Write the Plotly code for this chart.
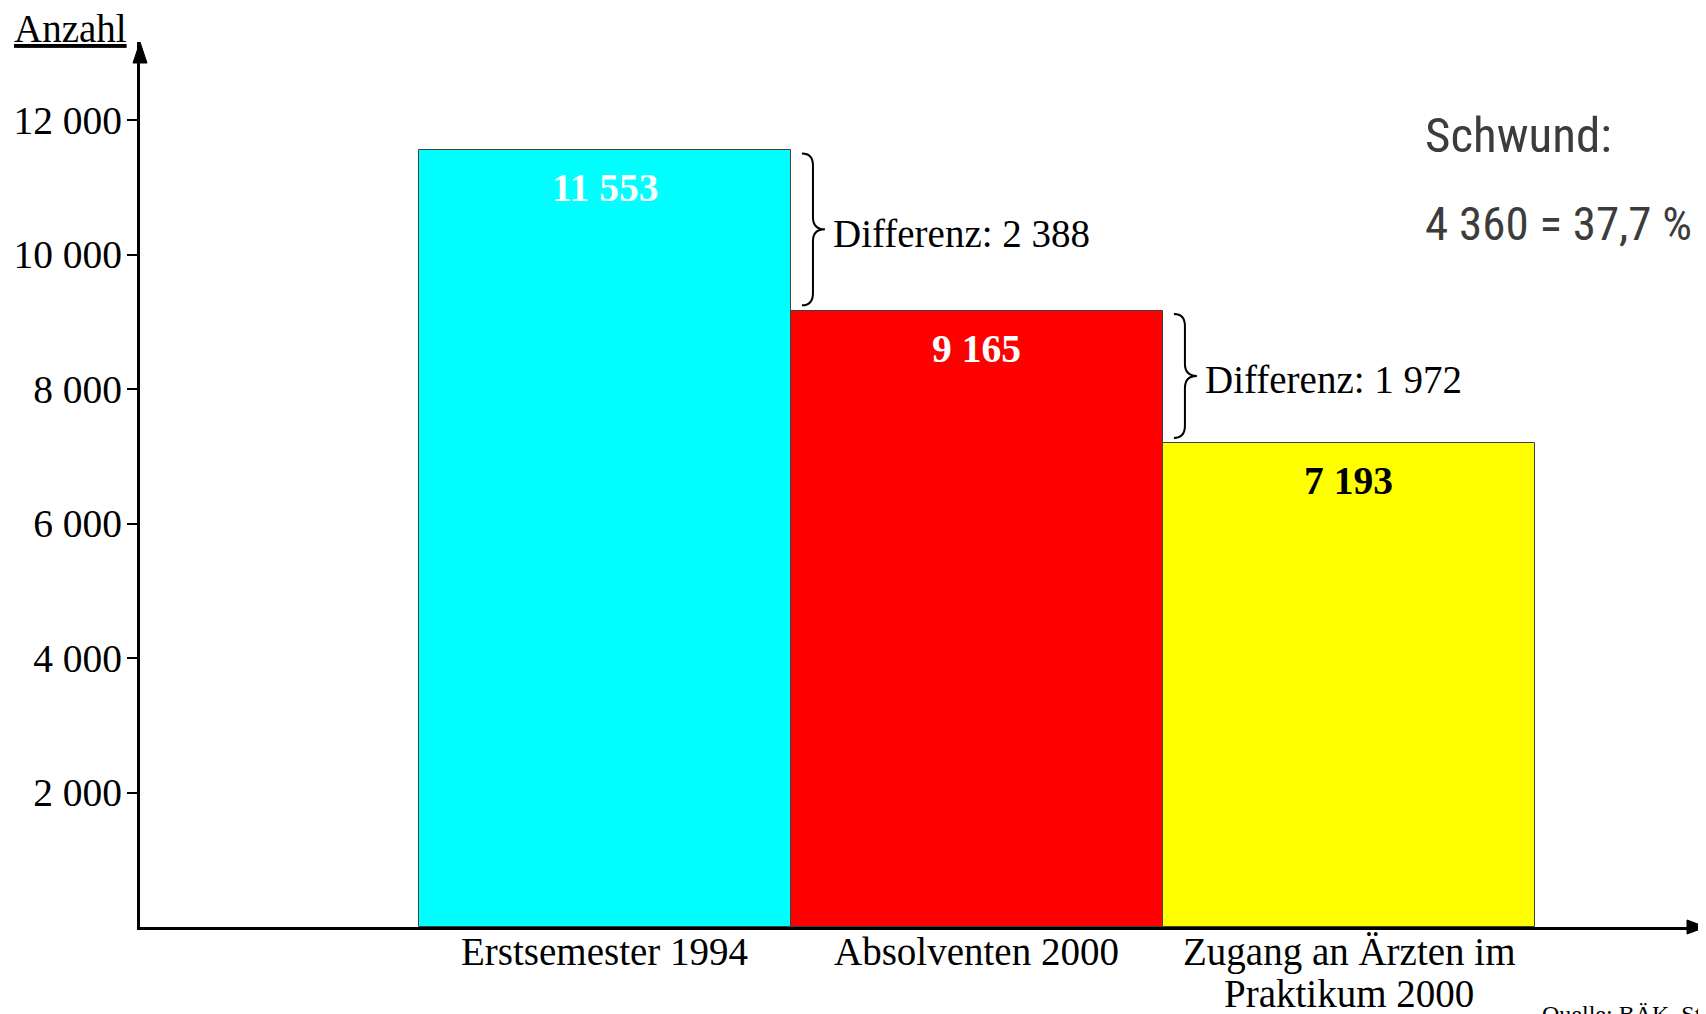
import plotly.graph_objects as go

# ---- data ----
categories = ["Erstsemester 1994", "Absolventen 2000", "Zugang an Ärzten im<br>Praktikum 2000"]
values = [11553, 9165, 7193]
ytick_values = [2000, 4000, 6000, 8000, 10000, 12000]
y_axis_title = "Anzahl"
source_text = "Quelle: BÄK, Statistik"

# ---- styles ----
bar_colors = ["#00FFFF", "#FF0000", "#FFFF00"]
label_colors = ["white", "white", "black"]
SERIF = "Liberation Serif, Times New Roman, serif"
NARROW = "Liberation Sans Narrow, Roboto Condensed, Roboto, sans-serif"

PW, PH = 1566, 885  # plot area size in px (for arrowhead sizing)


def fmt(n):
    return f"{n:,}".replace(",", " ")


xs = list(range(len(values)))

fig = go.Figure()
fig.add_trace(go.Bar(
    x=xs, y=values, width=1,
    marker=dict(color=bar_colors, line=dict(color="#404040", width=1)),
    hoverinfo="skip", showlegend=False,
))

annotations = []
shapes = []

# value labels inside bars
for i, v in enumerate(values):
    annotations.append(dict(
        x=xs[i], y=v, xref="x", yref="y", yshift=-38,
        text=f"<b>{fmt(v)}</b>", showarrow=False,
        font=dict(family=SERIF, size=39.5, color=label_colors[i]),
        xanchor="center", yanchor="middle",
    ))

# category labels under the axis (one annotation per line for tight spacing)
line_y = [-0.0282, -0.0746]
for i, cat in enumerate(categories):
    for j, line in enumerate(cat.split("<br>")):
        annotations.append(dict(
            x=xs[i], y=line_y[j], xref="x", yref="paper",
            text=line, showarrow=False,
            font=dict(family=SERIF, size=39, color="black"),
            xanchor="center", yanchor="middle",
        ))

# braces + differences
for i in range(len(values) - 1):
    edge = xs[i] + 0.5
    ytop = values[i] - 50
    ybot = values[i + 1] + 80
    ymid = (ytop + ybot) / 2
    x0 = edge + 11 / 372
    xm = edge + 22 / 372
    xt = edge + 34 / 372
    r = 180
    path = (f"M {x0},{ytop} Q {xm},{ytop} {xm},{ytop - r} "
            f"L {xm},{ymid + r} Q {xm},{ymid} {xt},{ymid} "
            f"Q {xm},{ymid} {xm},{ymid - r} "
            f"L {xm},{ybot + r} Q {xm},{ybot} {x0},{ybot}")
    shapes.append(dict(type="path", xref="x", yref="y", path=path,
                       line=dict(color="black", width=2)))
    diff = values[i] - values[i + 1]
    annotations.append(dict(
        x=edge + 40 / 372, y=ymid, xref="x", yref="y", yshift=-4,
        text=f"Differenz: {fmt(diff)}", showarrow=False,
        font=dict(family=SERIF, size=39, color="black"),
        xanchor="left", yanchor="middle",
    ))

# Schwund
loss = values[0] - values[-1]
pct = loss / values[0] * 100
annotations.append(dict(
    x=0.819, y=0.894, xref="paper", yref="paper", text="Schwund:",
    showarrow=False, font=dict(family=NARROW, size=49, color="#3c3c3c"),
    xanchor="left", yanchor="middle",
))
annotations.append(dict(
    x=0.819, y=0.7946, xref="paper", yref="paper",
    text=f"{fmt(loss)} = {pct:.1f} %".replace(".", ","),
    showarrow=False, font=dict(family=NARROW, size=47, color="#3c3c3c"),
    xanchor="left", yanchor="middle",
))

# Axis title
annotations.append(dict(
    x=-0.082, y=1.015, xref="paper", yref="paper",
    text=f"<u>{y_axis_title}</u>", showarrow=False,
    font=dict(family=SERIF, size=39, color="black"),
    xanchor="left", yanchor="middle",
))

# Source
annotations.append(dict(
    x=0.894, y=-0.0814, xref="paper", yref="paper",
    text=source_text, showarrow=False,
    font=dict(family=SERIF, size=24, color="black"),
    xanchor="left", yanchor="top",
))

# axis arrowheads (paper coordinates)
shapes.append(dict(type="path", xref="paper", yref="paper",
                   path=f"M {-7/PW},{1-21/PH} L {7/PW},{1-21/PH} L 0,1 Z",
                   fillcolor="black", line=dict(color="black", width=1)))
shapes.append(dict(type="path", xref="paper", yref="paper",
                   path=f"M {1-19/PW},{-7/PH} L {1-19/PW},{7/PH} L 1,0 Z",
                   fillcolor="black", line=dict(color="black", width=1)))

fig.update_layout(
    width=1698, height=1006,
    margin=dict(l=132, r=0, t=34, b=87),
    paper_bgcolor="white", plot_bgcolor="white",
    bargap=0,
    annotations=annotations, shapes=shapes,
    xaxis=dict(
        range=[-1.25, 2.96], tickvals=xs, showticklabels=False,
        showline=True, linecolor="black", linewidth=3,
        showgrid=False, zeroline=False, ticks="",
        automargin=False, fixedrange=True,
    ),
    yaxis=dict(
        range=[0, 13160], tickvals=ytick_values,
        ticktext=[fmt(v) for v in ytick_values],
        showline=True, linecolor="black", linewidth=3,
        showgrid=False, zeroline=False,
        ticks="outside", ticklen=10, tickwidth=2, tickcolor="black",
        tickfont=dict(family=SERIF, size=39.5, color="black"),
        ticklabelstandoff=-3,
        automargin=False, fixedrange=True,
    ),
)

fig.write_html("out.html")
